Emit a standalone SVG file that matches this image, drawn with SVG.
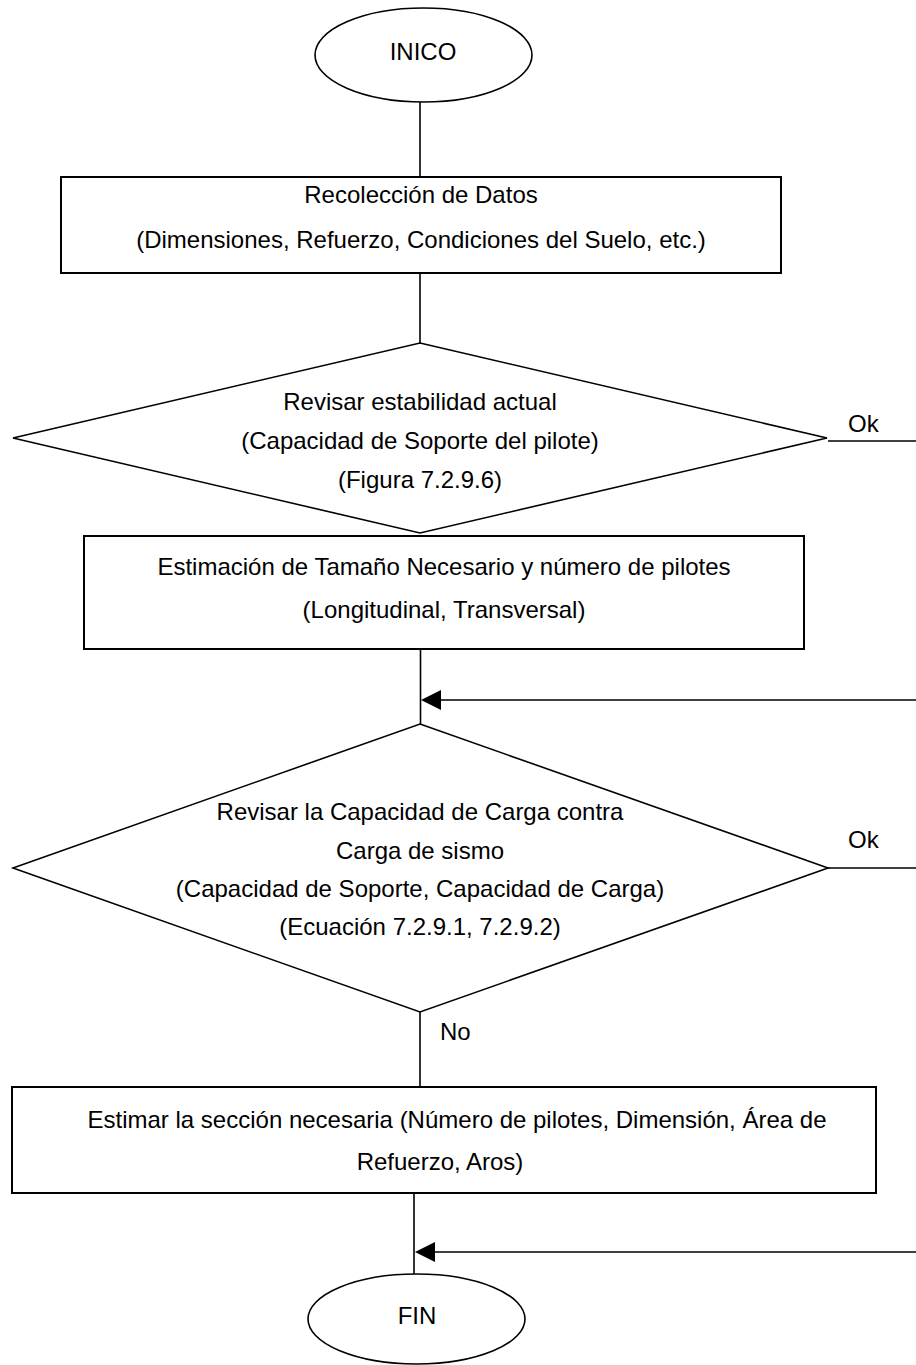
<svg xmlns="http://www.w3.org/2000/svg" width="916" height="1365" viewBox="0 0 916 1365">
<style>
.shape{fill:#fff;stroke:#000;stroke-width:1.6}
.box{fill:#fff;stroke:#000;stroke-width:2}
.ln{fill:none;stroke:#000;stroke-width:1.6}
text{font-family:"Liberation Sans",Arial,sans-serif;font-size:24px;fill:#000}
.c{text-anchor:middle}
</style>
<rect width="916" height="1365" fill="#fff"/>
<g id="connectors">
<line class="ln" x1="420" y1="102" x2="420" y2="177"/>
<line class="ln" x1="420" y1="273" x2="420" y2="343"/>
<line class="ln" x1="828" y1="441" x2="916" y2="441"/>
<line class="ln" x1="420.5" y1="650" x2="420.5" y2="724"/>
<path d="M916,700 L441,700" class="ln"/>
<path d="M441,690 L421,700 L441,710 Z" fill="#000"/>
<line class="ln" x1="828" y1="868" x2="916" y2="868"/>
<line class="ln" x1="420" y1="1012" x2="420" y2="1087"/>
<line class="ln" x1="414" y1="1193" x2="414" y2="1274"/>
<path d="M916,1252 L435,1252" class="ln"/>
<path d="M435,1242 L415,1252 L435,1262 Z" fill="#000"/>
<text x="848" y="432">Ok</text>
<text x="848" y="848">Ok</text>
<text x="440" y="1040">No</text>
</g>
<g id="inicio">
<ellipse class="shape" cx="423.5" cy="55" rx="108.5" ry="47"/>
<text class="c" x="423" y="60">INICO</text>
</g>
<g id="recoleccion">
<rect class="box" x="61" y="177" width="720" height="96"/>
<text class="c" x="421" y="203">Recolección de Datos</text>
<text class="c" x="421" y="248">(Dimensiones, Refuerzo, Condiciones del Suelo, etc.)</text>
</g>
<g id="estabilidad">
<polygon class="shape" points="420,343 827,438 420,533 13,438"/>
<text class="c" x="420" y="410">Revisar estabilidad actual</text>
<text class="c" x="420" y="449">(Capacidad de Soporte del pilote)</text>
<text class="c" x="420" y="488">(Figura 7.2.9.6)</text>
</g>
<g id="estimacion">
<rect class="box" x="84" y="536" width="720" height="113"/>
<text class="c" x="444" y="575">Estimación de Tamaño Necesario y número de pilotes</text>
<text class="c" x="444" y="618">(Longitudinal, Transversal)</text>
</g>
<g id="capacidad">
<polygon class="shape" points="420,724 828,868 420,1012 13,868"/>
<text class="c" x="420" y="820">Revisar la Capacidad de Carga contra</text>
<text class="c" x="420" y="859">Carga de sismo</text>
<text class="c" x="420" y="897">(Capacidad de Soporte, Capacidad de Carga)</text>
<text class="c" x="420" y="935">(Ecuación 7.2.9.1, 7.2.9.2)</text>
</g>
<g id="seccion">
<rect class="box" x="12" y="1087" width="864" height="106"/>
<text class="c" x="457" y="1128">Estimar la sección necesaria (Número de pilotes, Dimensión, Área de</text>
<text class="c" x="440" y="1170">Refuerzo, Aros)</text>
</g>
<g id="fin">
<ellipse class="shape" cx="416.5" cy="1319" rx="108.5" ry="45"/>
<text class="c" x="417" y="1324">FIN</text>
</g>
</svg>
